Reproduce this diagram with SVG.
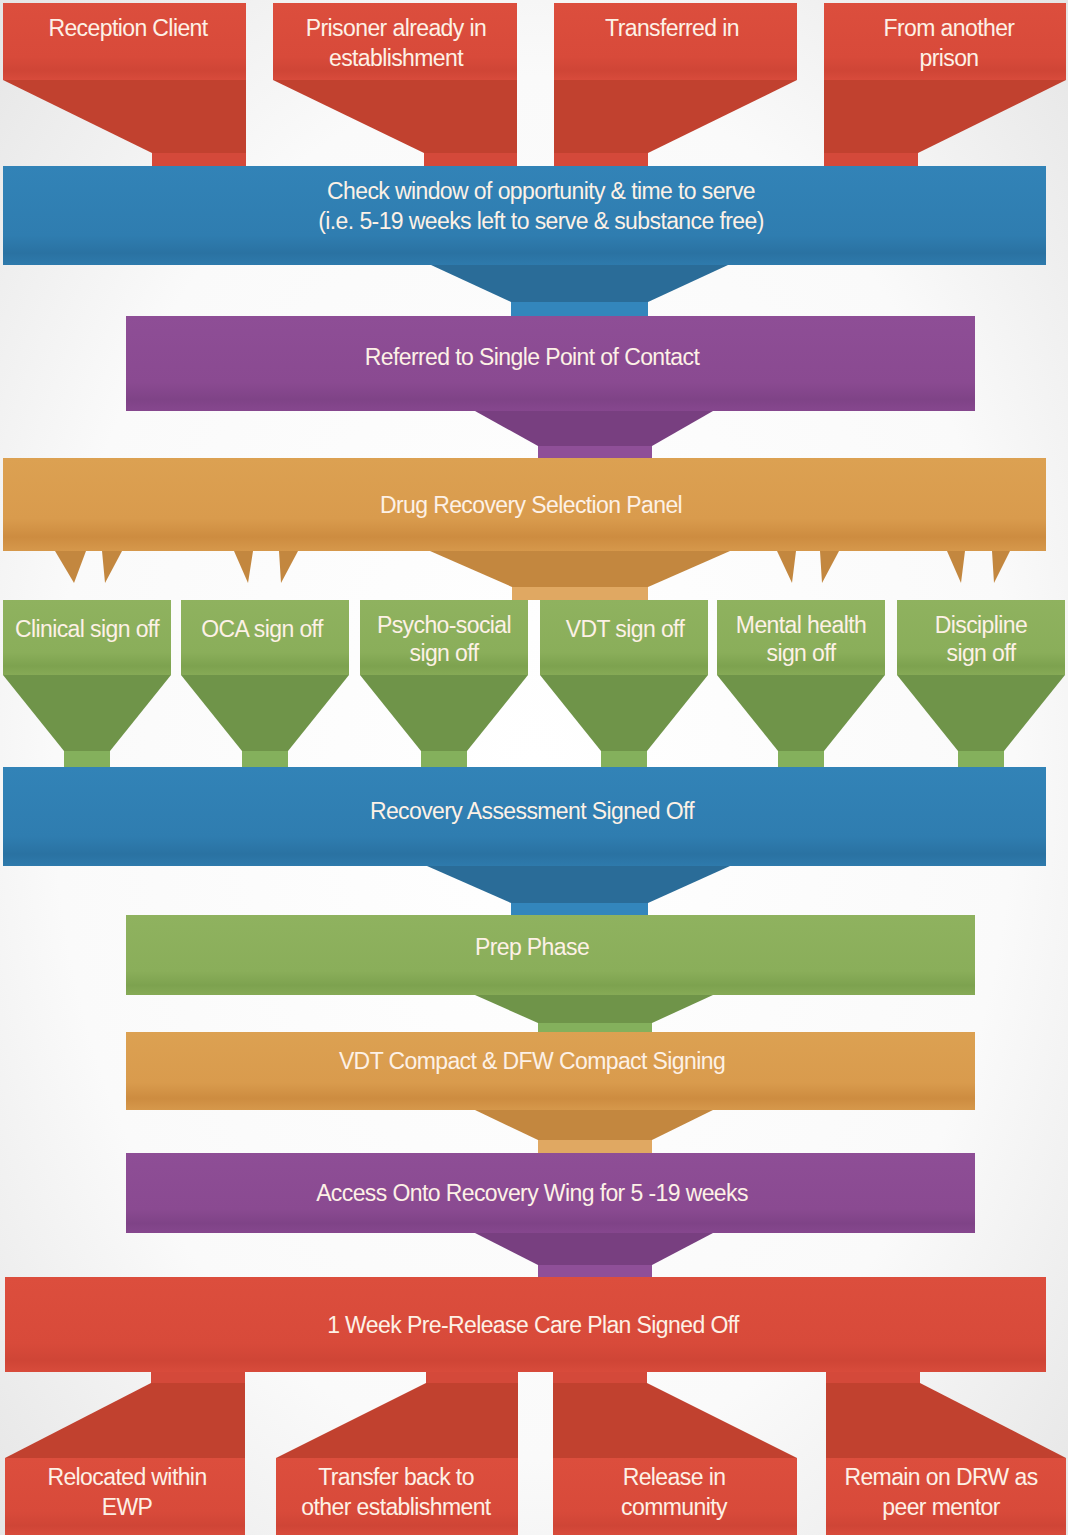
<svg xmlns="http://www.w3.org/2000/svg" width="1068" height="1535" viewBox="0 0 1068 1535">
<defs>
<radialGradient id="bg" cx="0.5" cy="0.5" r="0.75">
<stop offset="0" stop-color="#ffffff"/><stop offset="0.6" stop-color="#fafafa"/><stop offset="1" stop-color="#e2e2e2"/>
</radialGradient>
<linearGradient id="gRed" x1="0" y1="0" x2="0" y2="1"><stop offset="0" stop-color="#dc4e3d"/><stop offset="0.7" stop-color="#d84a3a"/><stop offset="0.88" stop-color="#cf4536"/><stop offset="1" stop-color="#d84b3b"/></linearGradient>
<linearGradient id="gBlue" x1="0" y1="0" x2="0" y2="1"><stop offset="0" stop-color="#3283b7"/><stop offset="0.7" stop-color="#2f7db0"/><stop offset="0.88" stop-color="#2a72a2"/><stop offset="1" stop-color="#2e7aac"/></linearGradient>
<linearGradient id="gPur" x1="0" y1="0" x2="0" y2="1"><stop offset="0" stop-color="#8e4e96"/><stop offset="0.7" stop-color="#8a4a91"/><stop offset="0.88" stop-color="#7f4387"/><stop offset="1" stop-color="#86478e"/></linearGradient>
<linearGradient id="gOrg" x1="0" y1="0" x2="0" y2="1"><stop offset="0" stop-color="#dca152"/><stop offset="0.65" stop-color="#d99b4d"/><stop offset="0.85" stop-color="#cd8c40"/><stop offset="1" stop-color="#d6984b"/></linearGradient>
<linearGradient id="gGrn" x1="0" y1="0" x2="0" y2="1"><stop offset="0" stop-color="#8fb25f"/><stop offset="0.7" stop-color="#8aae5a"/><stop offset="0.88" stop-color="#7da24f"/><stop offset="1" stop-color="#86aa56"/></linearGradient>
</defs>
<style>
.red{fill:url(#gRed)} .redd{fill:#c1412f} .reds{fill:#d4493a}
.blue{fill:url(#gBlue)} .blued{fill:#2a6c98} .blues{fill:#3386bc}
.pur{fill:url(#gPur)} .purd{fill:#783f80} .purs{fill:#8f4f98}
.org{fill:url(#gOrg)} .orgd{fill:#c3873f} .orgs{fill:#e0a862}
.grn{fill:url(#gGrn)} .grnd{fill:#6f9449} .grns{fill:#84b05c}
.t{font-family:"Liberation Sans",Arial,sans-serif;font-size:23px;fill:#fdf1e6;text-anchor:middle;letter-spacing:-0.6px}
</style>
<rect x="0" y="0" width="1068" height="1535" fill="url(#bg)"/>

<g id="connectors">
<polygon class="redd" points="3,80 246,80 246,153 152,153"/><rect class="reds" x="152" y="153" width="94" height="13"/>
<polygon class="redd" points="273,80 517,80 517,153 424,153"/><rect class="reds" x="424" y="153" width="93" height="13"/>
<polygon class="redd" points="554,80 797,80 648,153 554,153"/><rect class="reds" x="554" y="153" width="94" height="13"/>
<polygon class="redd" points="824,80 1066,80 918,153 824,153"/><rect class="reds" x="824" y="153" width="94" height="13"/>
<polygon class="blued" points="431,265 728,265 648,302 511,302"/><rect class="blues" x="511" y="302" width="137" height="14"/>
<polygon class="purd" points="475,411 713,411 652,446 538,446"/><rect class="purs" x="538" y="446" width="114" height="12"/>
<polygon class="orgd" points="430,551 730,551 648,587 512,587"/><rect class="orgs" x="512" y="587" width="136" height="13"/>
<polygon class="orgd" points="55,551 86,551 74,583"/><polygon class="orgd" points="102,551 122,551 105,583"/>
<polygon class="orgd" points="234,551 253,551 248,583"/><polygon class="orgd" points="279,551 298,551 281,583"/>
<polygon class="orgd" points="777,551 796,551 792,583"/><polygon class="orgd" points="820,551 839,551 822,583"/>
<polygon class="orgd" points="947,551 965,551 961,583"/><polygon class="orgd" points="992,551 1010,551 994,583"/>
<polygon class="grnd" points="3,675 171,675 110,751 64,751"/><rect class="grns" x="64" y="751" width="46" height="16"/>
<polygon class="grnd" points="181,675 349,675 288,751 242,751"/><rect class="grns" x="242" y="751" width="46" height="16"/>
<polygon class="grnd" points="360,675 528,675 467,751 421,751"/><rect class="grns" x="421" y="751" width="46" height="16"/>
<polygon class="grnd" points="540,675 708,675 647,751 601,751"/><rect class="grns" x="601" y="751" width="46" height="16"/>
<polygon class="grnd" points="717,675 885,675 824,751 778,751"/><rect class="grns" x="778" y="751" width="46" height="16"/>
<polygon class="grnd" points="897,675 1065,675 1004,751 958,751"/><rect class="grns" x="958" y="751" width="46" height="16"/>
<polygon class="blued" points="427,866 730,866 648,903 511,903"/><rect class="blues" x="511" y="903" width="137" height="12"/>
<polygon class="grnd" points="475,995 713,995 652,1023 538,1023"/><rect class="grns" x="538" y="1023" width="114" height="9"/>
<polygon class="orgd" points="475,1110 713,1110 652,1140 538,1140"/><rect class="orgs" x="538" y="1140" width="114" height="13"/>
<polygon class="purd" points="475,1233 713,1233 652,1265 538,1265"/><rect class="purs" x="538" y="1265" width="114" height="12"/>
<rect class="reds" x="151" y="1372" width="94" height="11"/><polygon class="redd" points="151,1383 245,1383 245,1458 5,1458"/>
<rect class="reds" x="426" y="1372" width="92" height="11"/><polygon class="redd" points="426,1383 518,1383 518,1458 276,1458"/>
<rect class="reds" x="553" y="1372" width="94" height="11"/><polygon class="redd" points="553,1383 647,1383 797,1458 553,1458"/>
<rect class="reds" x="826" y="1372" width="94" height="11"/><polygon class="redd" points="826,1383 920,1383 1066,1458 826,1458"/>
</g>

<g id="reception-client"><rect class="red" x="3" y="3" width="243" height="77"/><text class="t" x="128" y="36">Reception Client</text></g>
<g id="prisoner-already"><rect class="red" x="273" y="3" width="244" height="77"/><text class="t" x="396" y="36">Prisoner already in</text><text class="t" x="396" y="66">establishment</text></g>
<g id="transferred-in"><rect class="red" x="554" y="3" width="243" height="77"/><text class="t" x="672" y="36">Transferred in</text></g>
<g id="from-another-prison"><rect class="red" x="824" y="3" width="242" height="77"/><text class="t" x="949" y="36">From another</text><text class="t" x="949" y="66">prison</text></g>

<g id="check-window"><rect class="blue" x="3" y="166" width="1043" height="99"/><text class="t" x="541" y="199">Check window of opportunity &amp; time to serve</text><text class="t" x="541" y="229">(i.e. 5-19 weeks left to serve &amp; substance free)</text></g>
<g id="spoc"><rect class="pur" x="126" y="316" width="849" height="95"/><text class="t" x="532" y="365">Referred to Single Point of Contact</text></g>
<g id="selection-panel"><rect class="org" x="3" y="458" width="1043" height="93"/><text class="t" x="531" y="513">Drug Recovery Selection Panel</text></g>

<g id="clinical"><rect class="grn" x="3" y="600" width="168" height="75"/><text class="t" x="87" y="637">Clinical sign off</text></g>
<g id="oca"><rect class="grn" x="181" y="600" width="168" height="75"/><text class="t" x="262" y="637">OCA sign off</text></g>
<g id="psycho-social"><rect class="grn" x="360" y="600" width="168" height="75"/><text class="t" x="444" y="633">Psycho-social</text><text class="t" x="444" y="661">sign off</text></g>
<g id="vdt"><rect class="grn" x="540" y="600" width="168" height="75"/><text class="t" x="625" y="637">VDT sign off</text></g>
<g id="mental-health"><rect class="grn" x="717" y="600" width="168" height="75"/><text class="t" x="801" y="633">Mental health</text><text class="t" x="801" y="661">sign off</text></g>
<g id="discipline"><rect class="grn" x="897" y="600" width="168" height="75"/><text class="t" x="981" y="633">Discipline</text><text class="t" x="981" y="661">sign off</text></g>

<g id="recovery-assessment"><rect class="blue" x="3" y="767" width="1043" height="99"/><text class="t" x="532" y="819">Recovery Assessment Signed Off</text></g>
<g id="prep-phase"><rect class="grn" x="126" y="915" width="849" height="80"/><text class="t" x="532" y="955">Prep Phase</text></g>
<g id="compact-signing"><rect class="org" x="126" y="1032" width="849" height="78"/><text class="t" x="532" y="1069">VDT Compact &amp; DFW Compact Signing</text></g>
<g id="recovery-wing"><rect class="pur" x="126" y="1153" width="849" height="80"/><text class="t" x="532" y="1201">Access Onto Recovery Wing for 5 -19 weeks</text></g>
<g id="pre-release"><rect class="red" x="5" y="1277" width="1041" height="95"/><text class="t" x="533" y="1333">1 Week Pre-Release Care Plan Signed Off</text></g>

<g id="relocated"><rect class="red" x="5" y="1458" width="240" height="77"/><text class="t" x="127" y="1485">Relocated within</text><text class="t" x="127" y="1515">EWP</text></g>
<g id="transfer-back"><rect class="red" x="276" y="1458" width="242" height="77"/><text class="t" x="396" y="1485">Transfer back to</text><text class="t" x="396" y="1515">other establishment</text></g>
<g id="release"><rect class="red" x="553" y="1458" width="244" height="77"/><text class="t" x="674" y="1485">Release in</text><text class="t" x="674" y="1515">community</text></g>
<g id="remain"><rect class="red" x="826" y="1458" width="240" height="77"/><text class="t" x="941" y="1485">Remain on DRW as</text><text class="t" x="941" y="1515">peer mentor</text></g>
</svg>
